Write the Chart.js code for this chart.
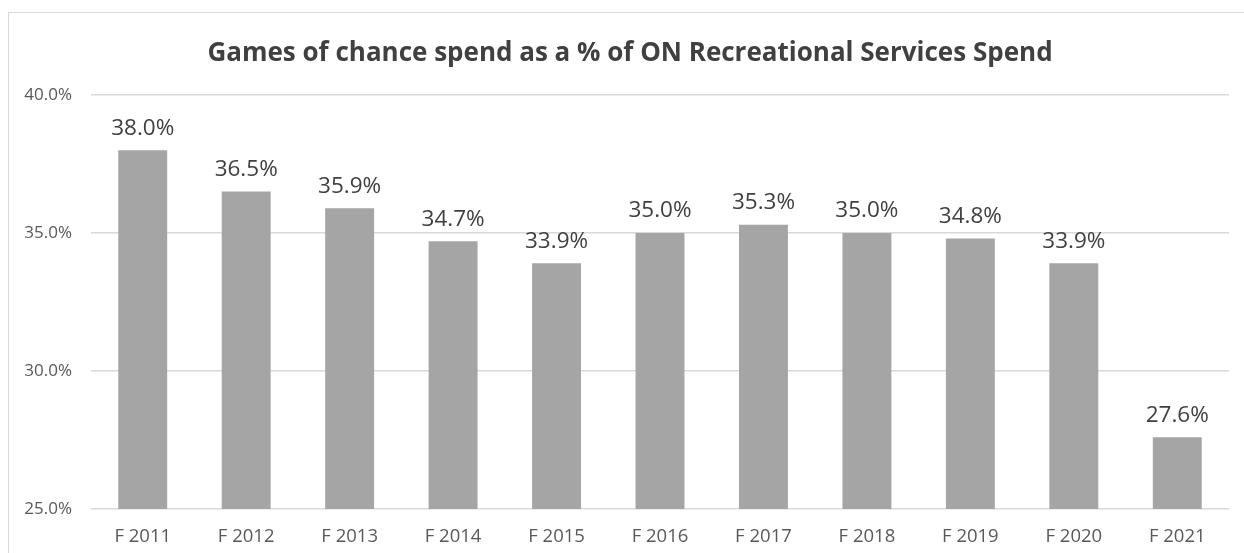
<!DOCTYPE html>
<html>
<head>
<meta charset="utf-8">
<script src="https://cdn.jsdelivr.net/npm/chart.js@4/dist/chart.umd.min.js"></script>
<style>
  html, body { margin: 0; padding: 0; background: #fff; overflow: hidden; }
  #wrap { position: relative; width: 1244px; height: 553px; }
  #frame {
    position: absolute; left: 8px; top: 12px; width: 1250px; height: 560px;
    border: 1px solid #d9d9d9; box-sizing: border-box; pointer-events: none;
  }
  canvas { position: absolute; left: 0; top: 0; }
</style>
</head>
<body>
<div id="wrap">
  <div id="frame"></div>
  <canvas id="myChart" width="1244" height="553"></canvas>
</div>
<script>
  const chartTitle = "Games of chance spend as a % of ON Recreational Services Spend";
  const years = ["F 2011", "F 2012", "F 2013", "F 2014", "F 2015", "F 2016",
                 "F 2017", "F 2018", "F 2019", "F 2020", "F 2021"];
  const shareOfSpend = [38.0, 36.5, 35.9, 34.7, 33.9, 35.0, 35.3, 35.0, 34.8, 33.9, 27.6];
  const yTicks = [25, 30, 35, 40];

  const fontFamily = "'Open Sans', 'Noto Sans', sans-serif";

  // title centred on the whole frame, not just the plot
  const frameTitle = {
    id: "frameTitle",
    afterDraw(chart) {
      const ctx = chart.ctx;
      ctx.save();
      ctx.font = "bold 26px " + fontFamily;
      ctx.fillStyle = "#404040";
      ctx.textAlign = "center";
      ctx.textBaseline = "middle";
      ctx.fillText(chartTitle, 630, 53.5);
      ctx.restore();
    },
  };

  // value labels drawn above each bar
  const barLabels = {
    id: "barLabels",
    afterDatasetsDraw(chart) {
      const ctx = chart.ctx;
      const meta = chart.getDatasetMeta(0);
      ctx.save();
      ctx.font = "22.5px " + fontFamily;
      ctx.fillStyle = "#404040";
      ctx.textAlign = "center";
      ctx.textBaseline = "middle";
      meta.data.forEach(function (bar, i) {
        const value = chart.data.datasets[0].data[i];
        ctx.fillText(value.toFixed(1) + "%", bar.x, bar.y - 22);
      });
      ctx.restore();
    },
  };

  new Chart(document.getElementById("myChart"), {
    type: "bar",
    data: {
      labels: years,
      datasets: [
        {
          label: "Games of chance share",
          data: shareOfSpend,
          backgroundColor: "#a5a5a5",
          barPercentage: 0.473,
          categoryPercentage: 1,
        },
      ],
    },
    options: {
      responsive: false,
      animation: false,
      layout: { padding: { left: 0, right: 15, top: 95, bottom: 0 } },
      plugins: {
        legend: { display: false },
        tooltip: { enabled: false },
        title: { display: false },
      },
      scales: {
        x: {
          afterFit: function (scale) { scale.height = 44; },
          grid: { display: false },
          border: { display: false },
          ticks: {
            color: "#595959",
            font: { family: fontFamily, size: 18.5 },
            padding: 9,
            maxRotation: 0,
          },
        },
        y: {
          min: 25,
          max: 40,
          afterFit: function (scale) { scale.width = 91; },
          afterBuildTicks: function (scale) {
            scale.ticks = yTicks.map(function (v) { return { value: v }; });
          },
          grid: { color: "#d9d9d9", lineWidth: 1.5, drawTicks: false },
          border: { display: false },
          ticks: {
            color: "#595959",
            font: { family: fontFamily, size: 17 },
            padding: 19,
            callback: function (v) { return v.toFixed(1) + "%"; },
          },
        },
      },
    },
    plugins: [barLabels, frameTitle],
  });
</script>
</body>
</html>
